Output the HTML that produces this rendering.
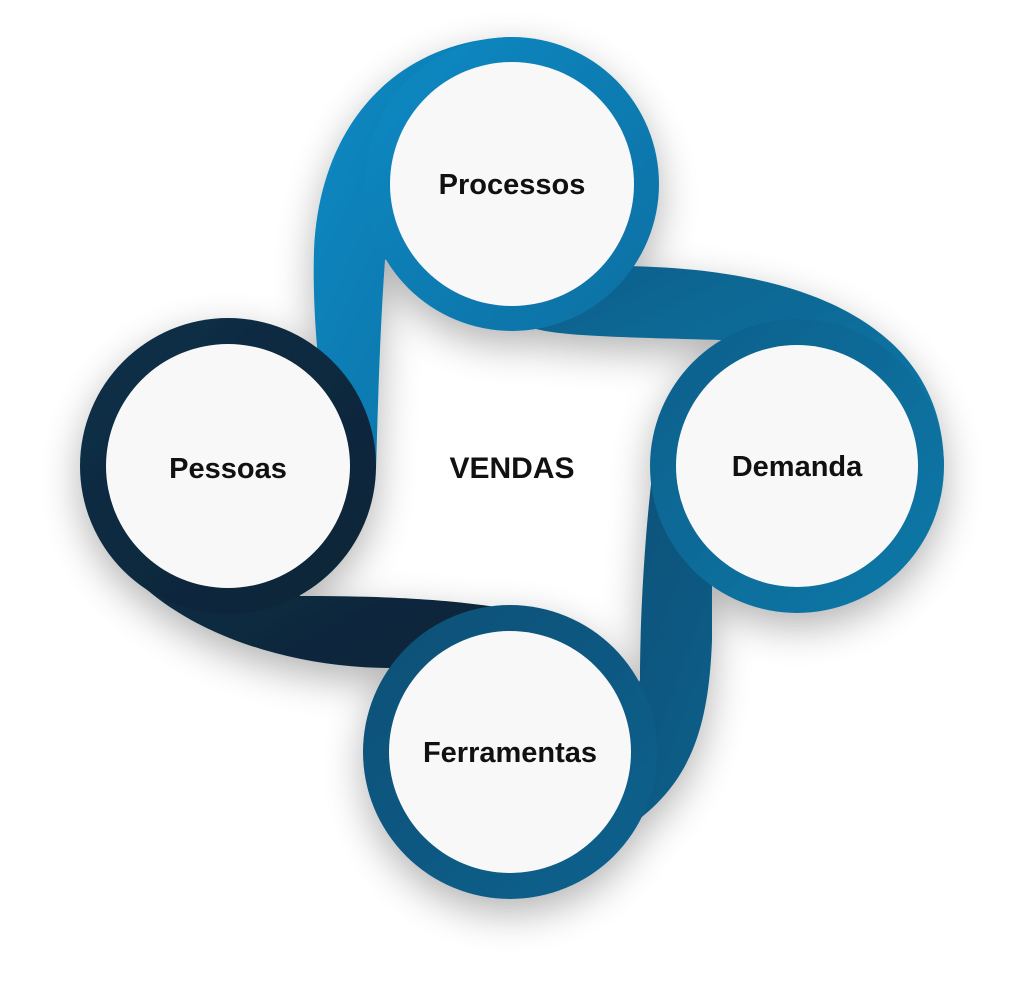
<!DOCTYPE html>
<html><head><meta charset="utf-8"><style>
html,body{margin:0;padding:0;background:#fff;}
svg{display:block}
text{font-family:"Liberation Sans",sans-serif;font-weight:bold;fill:#111;}
</style></head><body>
<svg width="1024" height="995" viewBox="0 0 1024 995" xmlns="http://www.w3.org/2000/svg">
<defs>
<filter id="sh" x="-30%" y="-30%" width="160%" height="160%">
<feGaussianBlur in="SourceAlpha" stdDeviation="20"/>
<feOffset dx="0" dy="14"/>
<feComponentTransfer><feFuncA type="linear" slope="0.3"/></feComponentTransfer>
<feMerge><feMergeNode/><feMergeNode in="SourceGraphic"/></feMerge>
</filter>
<linearGradient id="gP" x1="0" y1="0" x2="1" y2="1"><stop offset="0" stop-color="#0a8ac4"/><stop offset="1" stop-color="#0a6fa2"/></linearGradient>
<linearGradient id="gD" x1="0" y1="0" x2="1" y2="1"><stop offset="0" stop-color="#0b5f8a"/><stop offset="1" stop-color="#0b79a9"/></linearGradient>
<linearGradient id="gF" x1="0" y1="0" x2="1" y2="1"><stop offset="0" stop-color="#0c4f75"/><stop offset="1" stop-color="#0b628f"/></linearGradient>
<linearGradient id="gS" x1="0" y1="0" x2="1" y2="1"><stop offset="0" stop-color="#0a3048"/><stop offset="1" stop-color="#072336"/></linearGradient>
</defs>
<g filter="url(#sh)">
<path d="M512,37 C400,40 320,120 314,250 C312,320 320,380 330,470 L376,470 C378,400 380,330 385,260 L512,184 Z" fill="url(#gP)"/>
<path d="M944,466 C944,360 860,268 620,266 L512,266 L512,320 C540,335 570,336 720,340 C760,345 790,420 796,466 Z" fill="url(#gD)"/>
<path d="M662,410 C648,480 640,600 640,680 L600,760 L600,845 C680,800 708,750 712,640 L712,540 L760,440 Z" fill="url(#gF)"/>
<path d="M82,466 C90,600 250,668 390,668 L430,700 L510,700 L540,615 C470,600 400,596 300,596 L228,466 Z" fill="url(#gS)"/>
<circle cx="512" cy="184" r="147" fill="url(#gP)"/>
<circle cx="797" cy="466" r="147" fill="url(#gD)"/>
<circle cx="510" cy="752" r="147" fill="url(#gF)"/>
<circle cx="228" cy="466" r="148" fill="url(#gS)"/>
</g>
<circle cx="512" cy="184" r="122" fill="#f8f8f8"/>
<circle cx="797" cy="466" r="121" fill="#f8f8f8"/>
<circle cx="510" cy="752" r="121" fill="#f8f8f8"/>
<circle cx="228" cy="466" r="122" fill="#f8f8f8"/>
<text x="512" y="194" font-size="29" text-anchor="middle">Processos</text>
<text x="797" y="476" font-size="29" text-anchor="middle">Demanda</text>
<text x="510" y="762" font-size="29" text-anchor="middle">Ferramentas</text>
<text x="228" y="478" font-size="29" text-anchor="middle">Pessoas</text>
<text x="512" y="478" font-size="30" text-anchor="middle">VENDAS</text>
</svg>
</body></html>
